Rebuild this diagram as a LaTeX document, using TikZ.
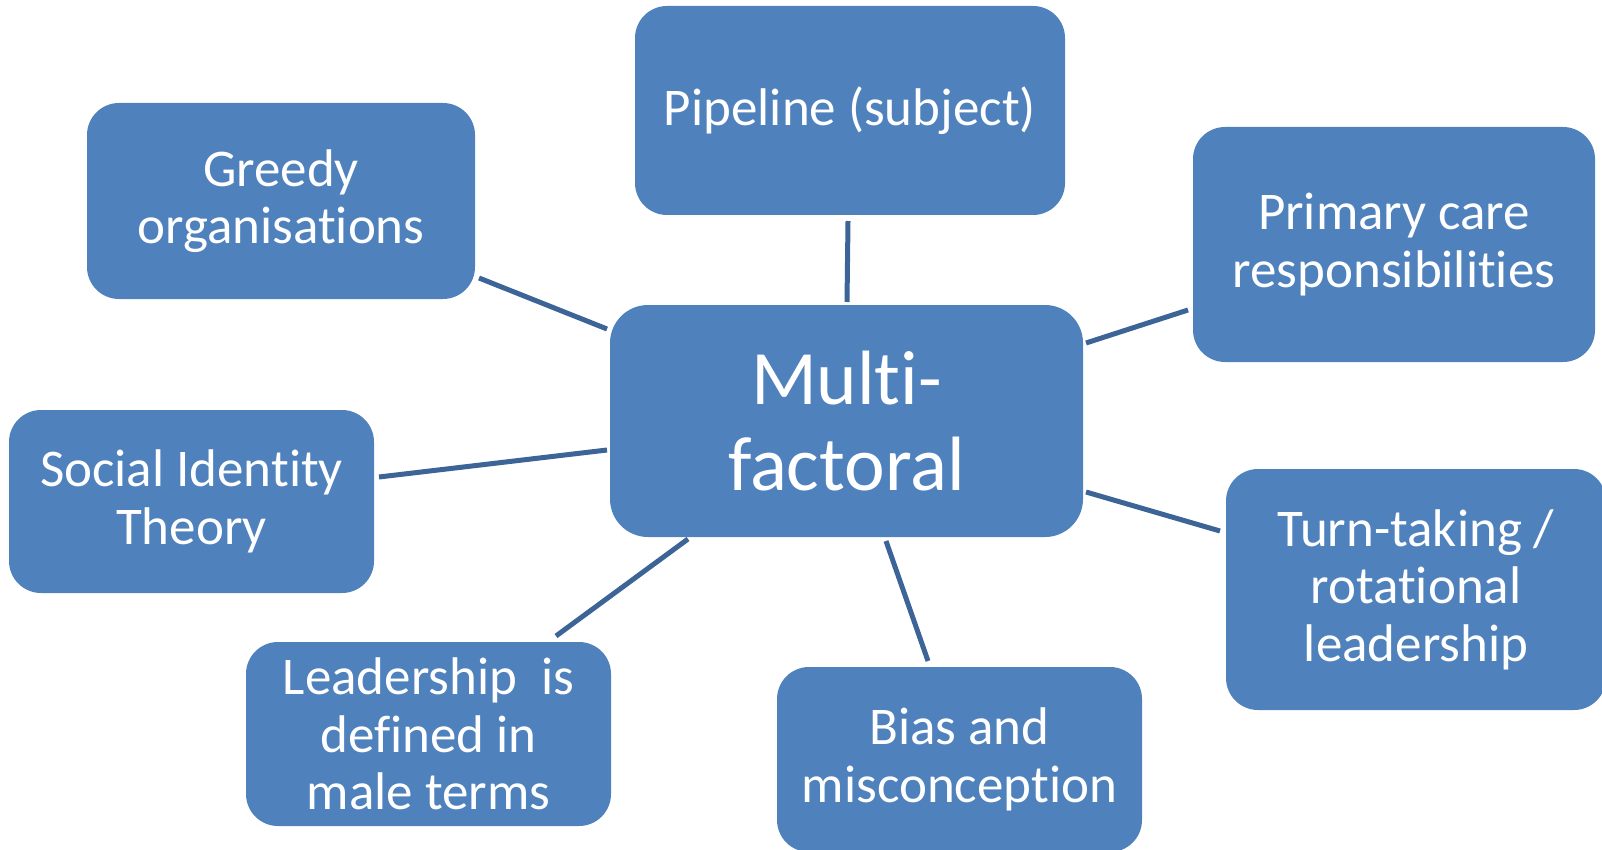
\documentclass[tikz,border=0pt]{standalone}
\usepackage{fontspec}
\setmainfont{Carlito}[Ligatures={NoCommon}]
\definecolor{boxblue}{HTML}{4F81BD}
\definecolor{linkblue}{HTML}{3C6497}
\begin{document}
\begin{tikzpicture}[x=1pt,y=-1pt,
  topic/.style={rectangle, rounded corners=32pt, fill=boxblue, text=white,
    align=center, inner sep=0pt, font=\fontsize{53}{57.5}\selectfont},
  hub/.style={topic, rounded corners=38pt, font=\fontsize{77}{86}\selectfont},
  link/.style={draw=linkblue, line width=5pt}]
\useasboundingbox (0,0) rectangle (1602,850);
\begin{scope}
\clip (0,0) rectangle (1602,850);
% central box
\node[hub, minimum width=473pt, minimum height=232pt] (multi) at (846.5,421) {Multi-\\factoral};
% surrounding factors
\node[topic, minimum width=430pt, minimum height=209pt] (pipe) at (850,110.5) {Pipeline (subject)};
\node[topic, minimum width=388pt, minimum height=196pt] (greedy) at (281,201) {Greedy\\organisations};
\node[topic, minimum width=402pt, minimum height=235pt] (care) at (1394,244.5) {Primary care\\responsibilities};
\node[topic, minimum width=365pt, minimum height=183pt] (sit) at (191.5,501.5) {Social Identity\\Theory};
\node[topic, minimum width=365pt, minimum height=184pt] (lead) at (428.5,734) {Leadership\ \ is\\defined in\\male terms};
\node[topic, minimum width=365pt, minimum height=185pt] (bias) at (959.5,759.5) {Bias and\\misconception};
\node[topic, minimum width=380pt, minimum height=241pt] (turn) at (1416,589.5) {Turn-taking /\\rotational\\leadership};
\end{scope}
% connector end points, just off each box edge
\coordinate (greedyE) at (479,278);  \coordinate (multiG) at (607,329);
\coordinate (pipeS)   at (848,221);  \coordinate (multiP) at (847,302);
\coordinate (careW)   at (1188,310); \coordinate (multiC) at (1086,343);
\coordinate (sitE)    at (379,477);  \coordinate (multiS) at (607,450);
\coordinate (turnW)   at (1220,531); \coordinate (multiT) at (1086,492);
\coordinate (leadN)   at (556,636);  \coordinate (multiL) at (688,539);
\coordinate (biasN)   at (928,661);  \coordinate (multiB) at (886,541);
\draw[link] (greedyE) -- (multiG);
\draw[link] (pipeS) -- (multiP);
\draw[link] (careW) -- (multiC);
\draw[link] (sitE) -- (multiS);
\draw[link] (turnW) -- (multiT);
\draw[link] (leadN) -- (multiL);
\draw[link] (biasN) -- (multiB);
\end{tikzpicture}
\end{document}
